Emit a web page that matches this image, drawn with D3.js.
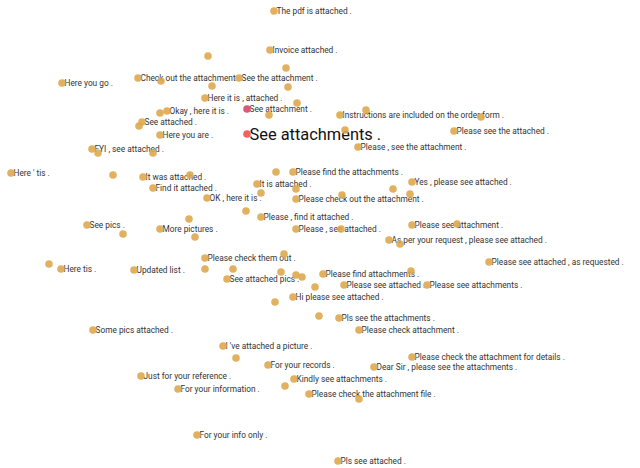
<!DOCTYPE html>
<html><head><meta charset="utf-8">
<script src="https://cdn.jsdelivr.net/npm/d3@7"></script>
<style>body{margin:0;background:#fff;}svg{display:block;}</style>
</head><body>
<script>
// point coordinates (embedding units), labels, and group (0=normal,1=neighbor,2=query)
const xs = [274,270,208,286,62,138,161,239,288,212,205,297,247,269,167,160,142,139,160,247,92,98,153,340,366,481,345,454,358,
  11,113,143,190,153,276,293,257,296,261,207,296,342,412,393,410,246,261,189,87,123,160,195,296,341,412,457,389,400,489,
  49,61,134,205,284,205,233,227,281,296,302,315,293,275,323,411,344,427,319,339,359,93,223,236,268,141,294,285,178,309,359,412,374,197,338];
const ys = [11,50,56,68,83,78,81,78,87,86,98,103,109,115,111,113,122,126,135,134,149,153,153,115,110,117,130,131,147,
  173,175,177,175,188,172,172,184,189,193,198,199,195,182,189,194,211,217,219,225,234,229,237,229,229,225,224,240,244,262,
  264,269,270,258,254,269,269,279,272,275,277,287,297,302,274,271,285,285,316,318,330,330,346,358,365,376,379,386,389,394,399,357,367,435,461];
const labels = ["The pdf is attached .","Invoice attached .","","","Here you go .","Check out the attachment .","","See the attachment .","","",
  "Here it is , attached .","","See attachment .","","Okay , here it is .","","See attached .","","Here you are .","See attachments .",
  "FYI , see attached .","","","Instructions are included on the order form .","","","","Please see the attached .","Please , see the attachment .",
  "Here ' tis .","","It was attached .","","Find it attached .","","Please find the attachments .","It is attached .","","",
  "OK , here it is .","Please check out the attachment .","","Yes , please see attached .","","","","Please , find it attached .","",
  "See pics .","","More pictures .","","Please , see attached .","","Please see attachment .","","As per your request , please see attached .","",
  "Please see attached , as requested .","","Here tis .","Updated list .","Please check them out .","","","","See attached pics .","","","",
  "","Hi please see attached .","","Please find attachments .","","Please see attached .","Please see attachments .","","Pls see the attachments .",
  "Please check attachment .","Some pics attached .","I 've attached a picture .","","For your records .","Just for your reference .",
  "Kindly see attachments .","","For your information .","Please check the attachment file .","","Please check the attachment for details .",
  "Dear Sir , please see the attachments .","For your info only .","Pls see attached ."];
const groups = xs.map((d,i)=> labels[i]==="See attachments ." ? 2 : (labels[i]==="See attachment ." ? 1 : 0));
const groupColors = ["#dea84e","#d8466a","#ee5252"];

const W = 640, H = 468;
const data = xs.map((x,i)=>({x, y: ys[i], label: labels[i], g: groups[i]}));
const xScale = d3.scaleLinear().domain([0,640]).range([0,W]);
const yScale = d3.scaleLinear().domain([0,468]).range([0,H]);

const svg = d3.select("body").append("svg").attr("width",W).attr("height",H);

svg.append("g").selectAll("text").data(data.filter(d=>d.label)).join("text")
  .attr("x", d=>xScale(d.x) + 2.5)
  .attr("y", d=>yScale(d.y) + (d.g===2?6:3))
  .attr("font-family","Roboto, sans-serif")
  .attr("font-size", d=> d.g===2 ? 16.4 : 8.3)
  .attr("fill", d=> d.g===2 ? "#111" : "#333")
  .text(d=>d.label);

svg.append("g").selectAll("circle").data(data).join("circle")
  .attr("cx", d=>xScale(d.x)).attr("cy", d=>yScale(d.y))
  .attr("r", 3.8)
  .attr("fill", d=>groupColors[d.g])
  .attr("fill-opacity", 0.9);
</script>
</body></html>
